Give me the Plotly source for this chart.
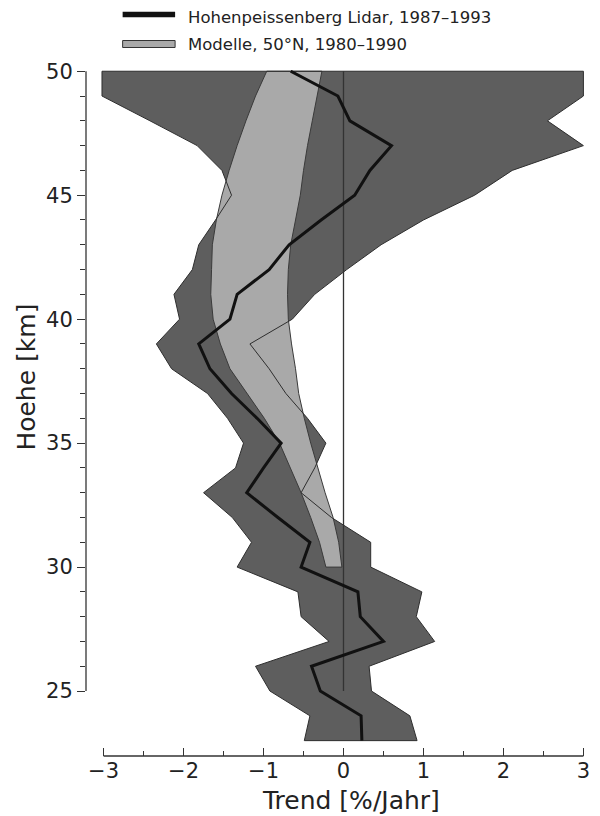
import plotly.graph_objects as go

# ---------------- data ----------------
ALT = [50, 49, 48, 47, 46, 45, 44, 43, 42, 41, 40, 39, 38, 37,
       36, 35, 34, 33, 32, 31, 30, 29, 28, 27, 26, 25, 24, 23]
LIDAR_MEAN = [-0.66, -0.07, 0.08, 0.60, 0.33, 0.14, -0.28, -0.68, -0.93, -1.33,
              -1.42, -1.81, -1.67, -1.40, -1.08, -0.78, -1.00, -1.21, -0.82, -0.42,
              -0.53, 0.18, 0.21, 0.50, -0.40, -0.29, 0.22, 0.23]
LIDAR_LOW = [-3.02, -3.02, -2.42, -1.83, -1.52, -1.40, -1.60, -1.81, -1.89, -2.12,
             -2.05, -2.34, -2.15, -1.70, -1.45, -1.25, -1.35, -1.75, -1.39, -1.15,
             -1.33, -0.57, -0.53, -0.18, -1.10, -0.92, -0.42, -0.49]
LIDAR_HIGH = [3.00, 3.00, 2.55, 3.00, 2.11, 1.64, 1.00, 0.47, 0.04, -0.36,
              -0.64, -1.17, -0.93, -0.72, -0.45, -0.22, -0.36, -0.53, -0.15, 0.34,
              0.34, 0.98, 0.91, 1.14, 0.32, 0.35, 0.83, 0.92]

MODEL_ALT = [50, 49, 48, 47, 46, 45, 44, 43, 42, 41, 40,
             39, 38, 37, 36, 35, 34, 33, 32, 31, 30]
MODEL_LOW = [-0.96, -1.10, -1.22, -1.33, -1.43, -1.52, -1.59, -1.64, -1.65, -1.66, -1.63,
             -1.54, -1.42, -1.20, -0.99, -0.80, -0.66, -0.53, -0.41, -0.30, -0.22]
MODEL_HIGH = [-0.27, -0.33, -0.39, -0.45, -0.50, -0.54, -0.60, -0.66, -0.69, -0.70, -0.69,
              -0.65, -0.60, -0.56, -0.49, -0.41, -0.32, -0.23, -0.13, -0.06, -0.02]

ZERO_X = [0, 0]
ZERO_Y = [25, 50]

XTICKS = [-3, -2, -1, 0, 1, 2, 3]
XMINOR = [-2.5, -1.5, -0.5, 0.5, 1.5, 2.5]
YTICKS = [25, 30, 35, 40, 45, 50]
YMINOR = [v for v in range(26, 50) if v % 5]

LEGEND_LABELS = ["Hohenpeissenberg Lidar, 1987–1993", "Modelle, 50°N, 1980–1990"]
X_TITLE = "Trend [%/Jahr]"
Y_TITLE = "Hoehe [km]"

# ---------------- styling ----------------
FONT = "DejaVu Sans"
TXT = "#222222"
DARK = "#5e5e5e"
LIGHT = "#a9a9a9"
EDGE = "#2e2e2e"

W, H = 600, 816
ML, MR, MT, MB = 86, 10, 70, 60
PW, PH = W - ML - MR, H - MT - MB


def px(xpix):
    return (xpix - ML) / PW


def py(ypix):
    return (H - MB - ypix) / PH


fig = go.Figure()

# lidar uncertainty band (fill)
fig.add_trace(go.Scatter(
    x=LIDAR_LOW + LIDAR_HIGH[::-1], y=ALT + ALT[::-1],
    fill="toself", fillcolor=DARK, mode="lines",
    line=dict(color=DARK, width=0), hoverinfo="skip", showlegend=False))

# model range band
fig.add_trace(go.Scatter(
    x=MODEL_LOW + MODEL_HIGH[::-1] + MODEL_LOW[:1], y=MODEL_ALT + MODEL_ALT[::-1] + MODEL_ALT[:1],
    fill="toself", fillcolor=LIGHT, mode="lines",
    line=dict(color="#3a3a3a", width=1), name=LEGEND_LABELS[1], showlegend=False))

# outline of the lidar band, drawn on top
fig.add_trace(go.Scatter(
    x=LIDAR_LOW + LIDAR_HIGH[::-1] + LIDAR_LOW[:1], y=ALT + ALT[::-1] + ALT[:1],
    mode="lines", line=dict(color=EDGE, width=1), hoverinfo="skip", showlegend=False))

# zero reference line
fig.add_trace(go.Scatter(
    x=ZERO_X, y=ZERO_Y, mode="lines",
    line=dict(color="#333333", width=1.3), hoverinfo="skip", showlegend=False))

# lidar mean trend
fig.add_trace(go.Scatter(
    x=LIDAR_MEAN, y=ALT, mode="lines",
    line=dict(color="#111111", width=3), name=LEGEND_LABELS[0], showlegend=False))

fig.update_xaxes(
    range=[-3.22, 3.02], tickmode="array", tickvals=XTICKS,
    ticks="inside", ticklen=8, tickwidth=1.2, tickcolor="#333333",
    minor=dict(tickmode="array", tickvals=XMINOR, ticks="inside", ticklen=5,
               tickwidth=1.2, tickcolor="#333333", showgrid=False),
    showline=False, showgrid=False, zeroline=False,
    tickfont=dict(family=FONT, size=21, color=TXT))

fig.update_yaxes(
    range=[22.38, 50.05], tickmode="array", tickvals=YTICKS,
    ticks="outside", ticklen=8, tickwidth=1.2, tickcolor="#333333",
    minor=dict(tickmode="array", tickvals=YMINOR, ticks="outside", ticklen=5,
               tickwidth=1.2, tickcolor="#333333", showgrid=False),
    showline=False, showgrid=False, zeroline=False,
    tickfont=dict(family=FONT, size=21, color=TXT))

shapes = [
    # x axis line spanning -3..3
    dict(type="line", xref="x", yref="paper", x0=XTICKS[0], x1=XTICKS[-1], y0=0, y1=0,
         line=dict(color="#333333", width=1.3)),
    # y axis line spanning 25..50
    dict(type="line", xref="paper", yref="y", x0=0, x1=0, y0=YTICKS[0], y1=YTICKS[-1],
         line=dict(color="#333333", width=1.3)),
    # legend swatches
    dict(type="line", xref="paper", yref="paper", x0=px(123), x1=px(176), y0=py(14.5), y1=py(14.5),
         line=dict(color="#111111", width=5.5)),
    dict(type="rect", xref="paper", yref="paper", x0=px(123), x1=px(176), y0=py(47.5), y1=py(40.5),
         fillcolor=LIGHT, line=dict(color="#333333", width=1)),
]

annotations = [
    dict(text=LEGEND_LABELS[0], xref="paper", yref="paper", x=px(187), y=py(17),
         xanchor="left", yanchor="middle", showarrow=False,
         font=dict(family=FONT, size=16.5, color=TXT)),
    dict(text=LEGEND_LABELS[1], xref="paper", yref="paper", x=px(187), y=py(44),
         xanchor="left", yanchor="middle", showarrow=False,
         font=dict(family=FONT, size=16.5, color=TXT)),
    dict(text=X_TITLE, xref="x", yref="paper", x=0.09, y=py(800),
         xanchor="center", yanchor="middle", showarrow=False,
         font=dict(family=FONT, size=25, color=TXT)),
    dict(text=Y_TITLE, xref="paper", yref="paper", x=px(25), y=py(377),
         xanchor="center", yanchor="middle", showarrow=False, textangle=-90,
         font=dict(family=FONT, size=25, color=TXT)),
]

fig.update_layout(
    width=W, height=H, margin=dict(l=ML, r=MR, t=MT, b=MB),
    paper_bgcolor="white", plot_bgcolor="white", showlegend=False,
    shapes=shapes, annotations=annotations)

fig.write_html("out.html", config={"displayModeBar": False},
               post_script="document.body.style.margin='0';")
